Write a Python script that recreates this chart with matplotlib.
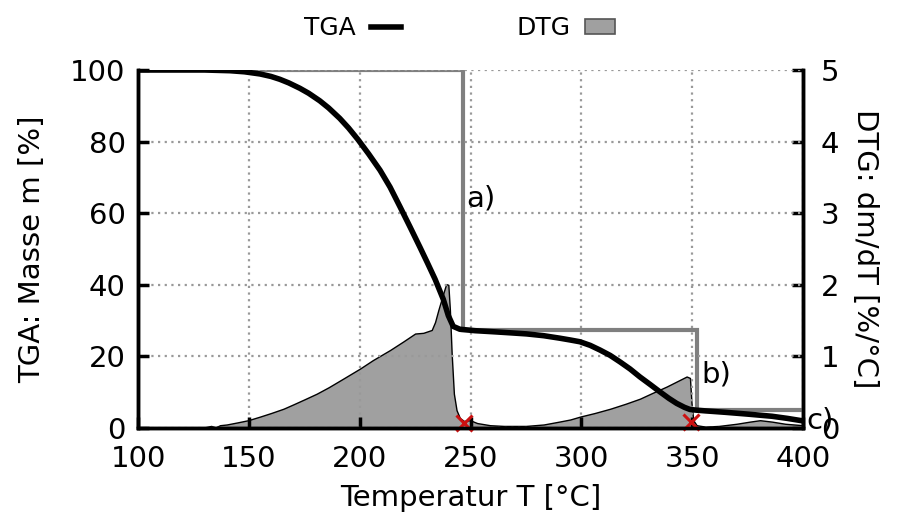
import matplotlib
matplotlib.use("Agg")
import matplotlib.pyplot as plt
from matplotlib.lines import Line2D
from matplotlib.patches import Patch

# ---- data ----
tga_T = [100, 130, 141.5, 148, 155, 160, 164, 168, 173, 177, 182, 186, 191, 195, 199.2, 204,
         209.2, 213.7, 218.2, 222.7, 227.2, 230.6, 234, 237.7, 240, 242.2, 245.2, 252, 260.3,
         268, 275.3, 283, 290.3, 295, 299.4, 304, 308.4, 313, 317.4, 322, 326.4, 331, 335.5,
         339.5, 343, 346.5, 349, 352, 356, 365, 375, 386, 393, 400]
tga_m = [100, 100, 99.8, 99.5, 98.9, 98.2, 97.4, 96.4, 94.9, 93.5, 91.4, 89.4, 86.5, 83.8,
         80.6, 76.6, 72.0, 67.3, 61.8, 56.2, 50.5, 46.1, 41.6, 36.0, 31.4, 28.4, 27.6, 27.2,
         26.9, 26.6, 26.3, 25.8, 25.1, 24.6, 24.1, 23.1, 21.8, 20.3, 18.5, 16.5, 14.3, 12.2,
         10.1, 8.3, 6.9, 5.8, 5.2, 5.0, 4.8, 4.4, 3.9, 3.3, 2.7, 2.0]

dtg_T = [125, 130, 133, 135, 137, 140, 145, 149.7, 155, 160, 165.6, 170, 175, 180.6, 186,
         192, 200.1, 206, 213.7, 219.7, 225, 228.7, 232.5, 234, 235.5, 237.7, 239, 240,
         240.7, 241.5, 242.5, 243.7, 245.2, 247, 249.8, 253, 258.8, 265, 275, 283, 290, 295,
         299.4, 306, 313, 320, 326.4, 332, 338.5, 343, 347.5, 349, 349.7, 350.5, 352, 356,
         362, 370, 376, 380.6, 386, 392, 400]
dtg_v = [0, 0.01, 0.03, 0.01, 0.04, 0.05, 0.08, 0.11, 0.16, 0.21, 0.27, 0.33, 0.40, 0.48,
         0.57, 0.68, 0.83, 0.95, 1.09, 1.21, 1.32, 1.33, 1.37, 1.48, 1.65, 1.88, 2.01, 2.0,
         1.65, 1.04, 0.48, 0.25, 0.14, 0.10, 0.11, 0.07, 0.04, 0.03, 0.03, 0.05, 0.09, 0.12,
         0.16, 0.21, 0.27, 0.34, 0.41, 0.49, 0.58, 0.65, 0.72, 0.70, 0.35, 0.11, 0.04, 0.02,
         0.03, 0.06, 0.09, 0.11, 0.09, 0.06, 0.04]

step_edges = [100, 246.5, 352, 400]
step_levels = [100, 27.3, 5]

cross_T = [247, 349.5]
cross_m = [1.4, 1.8]

labels = ["a)", "b)", "c)"]
label_T = [248, 354, 401.5]
label_m = [64, 15, 2]

x_ticks = [100, 150, 200, 250, 300, 350, 400]
y_ticks = [0, 20, 40, 60, 80, 100]
y2_ticks = [0, 1, 2, 3, 4, 5]

# ---- figure ----
plt.rcParams['font.family'] = ['DejaVu Sans']
fig = plt.figure(figsize=(8.98, 5.17), dpi=100)
ax1 = fig.add_axes([0.1537, 0.172, 0.7405, 0.6926])
ax2 = ax1.twinx()
ax1.set_zorder(ax2.get_zorder() + 1)
ax1.patch.set_visible(False)

FS = 21

# DTG fill on right axis
ax2.fill_between(dtg_T, 0, dtg_v, facecolor='#a0a0a0', edgecolor='black', linewidth=1.0)
ax2.set_ylim(0, 5)
ax2.set_yticks(y2_ticks)

# left axis content
ax1.grid(True, color='#999999', linestyle=(0, (1, 2)), linewidth=1.6)
ax1.stairs(step_levels, step_edges, baseline=None, color='#7f7f7f', linewidth=3)
ax1.plot(tga_T, tga_m, color='black', linewidth=4, solid_capstyle='round',
         solid_joinstyle='round')
ax1.plot(cross_T, cross_m, linestyle='none', marker='x', color='#cc1111', markersize=12,
         markeredgewidth=2.2, clip_on=False)
for t, x, y in zip(labels, label_T, label_m):
    ax1.text(x, y, t, fontsize=FS, va='center', ha='left')

ax1.set_xlim(100, 400)
ax1.set_ylim(0, 100)
ax1.set_xticks(x_ticks)
ax1.set_yticks(y_ticks)

for ax in (ax1, ax2):
    for s in ax.spines.values():
        s.set_linewidth(2.5)
    ax.spines['top'].set_visible(False)
    ax.tick_params(direction='in', length=8, width=2.5, labelsize=FS)
ax1.tick_params(axis='x', pad=12)
ax1.tick_params(axis='y', pad=9)
ax2.tick_params(axis='y', pad=13)

ax1.set_xlabel("Temperatur T [°C]", fontsize=FS, labelpad=8)
ax1.set_ylabel("TGA: Masse m [%]", fontsize=FS, labelpad=17)
ax2.set_ylabel("DTG: dm/dT [%/°C]", fontsize=FS, rotation=270, labelpad=28)

handles = [Line2D([], [], color='black', linewidth=4),
           Patch(facecolor='#a0a0a0', edgecolor='#555555', linewidth=1.2)]
fig.legend(handles, ["TGA", "DTG"], loc='center', bbox_to_anchor=(0.512, 0.946), ncol=2,
           frameon=False, fontsize=18, markerfirst=False, handlelength=1.2,
           handleheight=0.55, handletextpad=0.6, columnspacing=4.6)

fig.savefig("out.png", dpi=100)
